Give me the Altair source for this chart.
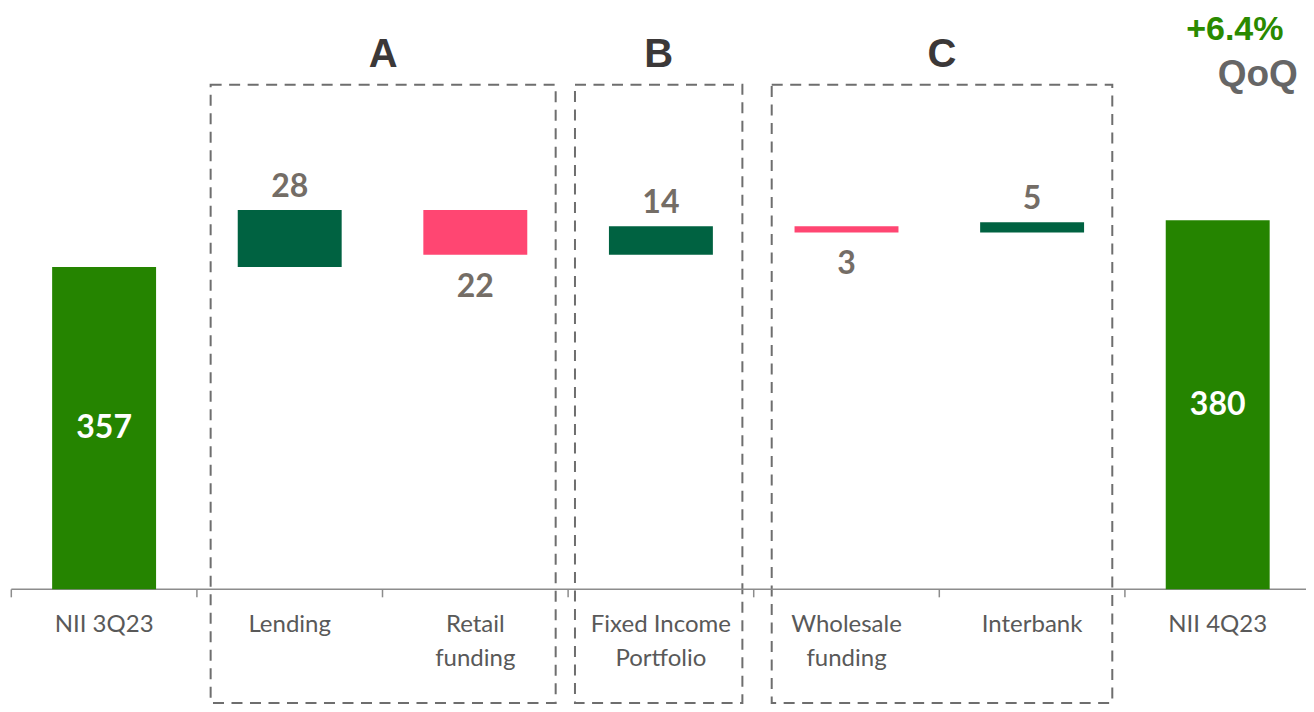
import altair as alt
import pandas as pd

# ---------------- data ----------------
categories = ["NII 3Q23", "Lending", "Retail funding", "Fixed Income Portfolio",
              "Wholesale funding", "Interbank", "NII 4Q23"]
label_lines = ["NII 3Q23", "Lending", "Retail\nfunding", "Fixed Income\nPortfolio",
               "Wholesale\nfunding", "Interbank", "NII 4Q23"]
values = [357, 28, -22, 14, -3, 5, 380]
kinds = ["total", "increase", "decrease", "increase", "decrease", "increase", "total"]

groups = ["A", "B", "C"]
group_x0 = [1.074, 3.037, 4.097]
group_x1 = [2.933, 3.939, 5.932]

headline_text = ["+6.4%", "QoQ"]

# ---------------- layout constants ----------------
Y_FLOOR = 199          # value at which the category axis sits
X_DOMAIN = [-0.0178, 6.9757]
Y_DOMAIN = [142.8, 484.0]
BOX_TOP, BOX_BOTTOM = 446.4, 143.3
BAR_HALF = 0.28
TICK_LEN = 3.9

# ---------------- build tables ----------------
rows = []
run = 0
for i, (c, lab, v, k) in enumerate(zip(categories, label_lines, values, kinds)):
    if k == "total":
        start, end = Y_FLOOR, v
        run = v
    else:
        start, end = run, run + v
        run = end
    rows.append(dict(
        cat=c, lab=lab, kind=k, x=i + 0.5 - BAR_HALF, x2=i + 0.5 + BAR_HALF,
        xc=i + 0.5, y=start, y2=end, top=max(start, end), bottom=min(start, end),
        mid=(start + end) / 2, txt=str(abs(v)), floor=Y_FLOOR,
    ))
df = pd.DataFrame(rows)

ticks = pd.DataFrame({"x": list(range(len(categories) + 1))})
ticks["y"] = Y_FLOOR
ticks["y2"] = Y_FLOOR - TICK_LEN

axis_df = pd.DataFrame({"x": [0], "x2": [len(categories)], "y": [Y_FLOOR]})

boxes = pd.DataFrame({"g": groups, "x0": group_x0, "x1": group_x1})
boxes["xc"] = (boxes["x0"] + boxes["x1"]) / 2
boxes["top"] = BOX_TOP
boxes["bottom"] = BOX_BOTTOM

head = pd.DataFrame({"t": headline_text, "x": [6.33, 6.50], "y": [468.5, 445.7]})

xs = alt.Scale(domain=X_DOMAIN, nice=False, zero=False)
ys = alt.Scale(domain=Y_DOMAIN, nice=False, zero=False)

X = lambda f: alt.X(f, type="quantitative", scale=xs, axis=None)
Y = lambda f: alt.Y(f, type="quantitative", scale=ys, axis=None)

box_layer = alt.Chart(boxes).mark_rect(
    fillOpacity=0, stroke="#6e6e6e", strokeWidth=2, strokeDash=[11, 7.5]
).encode(x=X("x0"), x2="x1", y=Y("top"), y2="bottom")

group_lab = alt.Chart(boxes).mark_text(
    font="Liberation Sans", fontWeight="bold", fontSize=40, color="#3b3838",
    align="center", baseline="alphabetic", dy=-18
).encode(x=X("xc"), y=Y("top"), text="g")

axis_line = alt.Chart(axis_df).mark_rule(color="#8c8c8c", strokeWidth=1.5).encode(
    x=X("x"), x2="x2", y=Y("y"))
tick_marks = alt.Chart(ticks).mark_rule(color="#8c8c8c", strokeWidth=1.5).encode(
    x=X("x"), y=Y("y"), y2="y2")

bars = alt.Chart(df).mark_rect().encode(
    x=X("x"), x2="x2", y=Y("y"), y2="y2",
    color=alt.Color("kind:N", scale=alt.Scale(
        domain=["total", "increase", "decrease"],
        range=["#258400", "#006241", "#FF4672"]), legend=None),
)

cat_labels = alt.Chart(df).mark_text(
    font="Lato", fontSize=24, color="#595959", align="center",
    baseline="alphabetic", dy=43, lineBreak="\n", lineHeight=34
).encode(x=X("xc"), y=Y("floor"), text="lab")

inc_labels = alt.Chart(df).transform_filter(alt.datum.kind == "increase").mark_text(
    font="Lato", fontWeight="bold", fontSize=32, color="#746d66",
    align="center", baseline="alphabetic", dy=-13
).encode(x=X("xc"), y=Y("top"), text="txt")

dec_labels = alt.Chart(df).transform_filter(alt.datum.kind == "decrease").mark_text(
    font="Lato", fontWeight="bold", fontSize=32, color="#746d66",
    align="center", baseline="alphabetic", dy=42
).encode(x=X("xc"), y=Y("bottom"), text="txt")

tot_labels = alt.Chart(df).transform_filter(alt.datum.kind == "total").mark_text(
    font="Lato", fontWeight="bold", fontSize=32, color="white",
    align="center", baseline="middle"
).encode(x=X("xc"), y=Y("mid"), text="txt")

head1 = alt.Chart(head).transform_filter(alt.datum.t == headline_text[0]).mark_text(
    font="Liberation Sans", fontWeight="bold", fontSize=34, color="#2a8a00",
    align="left", baseline="alphabetic"
).encode(x=X("x"), y=Y("y"), text="t")
head2 = alt.Chart(head).transform_filter(alt.datum.t == headline_text[1]).mark_text(
    font="Liberation Sans", fontWeight="bold", fontSize=37, color="#666666",
    align="left", baseline="alphabetic"
).encode(x=X("x"), y=Y("y"), text="t")

chart = alt.layer(
    box_layer, axis_line, tick_marks, bars, cat_labels, inc_labels, dec_labels,
    tot_labels, group_lab, head1, head2
).properties(
    width=1298, height=696, padding=0,
    autosize=alt.AutoSizeParams(type="none"),
    background="white",
).configure_view(stroke=None)

chart.save("out.html", embed_options={"renderer": "svg", "actions": False})
